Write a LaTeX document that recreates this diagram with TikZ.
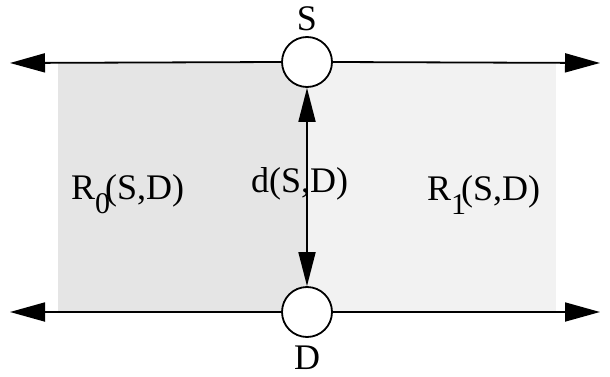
\documentclass[tikz,border=0pt]{standalone}
\usepackage{fontspec}
\setmainfont{Liberation Serif}
\usetikzlibrary{arrows.meta,shapes.geometric}
\definecolor{leftgray}{HTML}{E5E5E5}
\definecolor{rightgray}{HTML}{F2F2F2}
\tikzset{
  x=1pt,y=-1pt,
  line/.style={line width=1.8pt},
  bigtip/.style={-{Triangle[length=35pt,width=19pt]}},
  vtip/.style={{Triangle[length=34pt,width=17pt]}-{Triangle[length=34pt,width=17pt]}},
  station/.style={ellipse,draw,line width=1.8pt,fill=white,minimum width=50pt,minimum height=50pt,inner sep=0pt},
  lbl/.style={font=\fontsize{36}{38}\selectfont,inner sep=0pt},
}
\newcommand{\subR}[1]{R\raisebox{-0.4em}{\fontsize{30}{30}\selectfont #1}\kern-0.14em}
\begin{document}
\begin{tikzpicture}
\useasboundingbox (0,0) rectangle (610,377);
% shaded regions on both sides of the S--D segment
\fill[leftgray] (58,63) rectangle (307,312);
\fill[rightgray] (307,63) rectangle (556,312);
% the two stations
\node[station] (S) at (307,62) {};
\node[station] (D) at (307,312) {};
\coordinate (tl) at (10,63);
\coordinate (tr) at (600,63);
\coordinate (bl) at (10,312);
\coordinate (br) at (600,312);
% the two lines through the stations
\draw[line,bigtip] (S.west) -- (tl);
\draw[line,bigtip] (S.east) -- (tr);
\draw[line,bigtip] (D.west) -- (bl);
\draw[line,bigtip] (D.east) -- (br);
% distance arrow
\draw[line,vtip] (S.south) -- (D.north);
% labels
\node[lbl,anchor=base] (sl) at (307,31) {S};
\node[lbl,anchor=base] (dl) at (307,369) {D};
\node[lbl,anchor=base west] (r0) at (71,199) {\subR{0}(S,D)};
\node[lbl,anchor=base west] (d) at (251,192) {d(S,D)};
\node[lbl,anchor=base west] (r1) at (427,200) {\subR{1}(S,D)};
\end{tikzpicture}
\end{document}
